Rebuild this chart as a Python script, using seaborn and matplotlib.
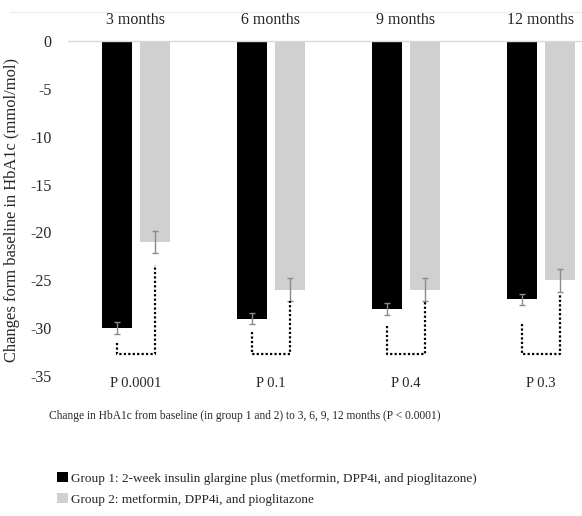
import matplotlib
matplotlib.use("Agg")
import matplotlib.pyplot as plt
from matplotlib.patches import Patch
from matplotlib.lines import Line2D
import seaborn as sns
import pandas as pd

months = ["3 months", "6 months", "9 months", "12 months"]
groups = ["Group 1: 2-week insulin glargine plus (metformin, DPP4i, and pioglitazone)",
          "Group 2: metformin, DPP4i, and pioglitazone"]
group1 = [-30, -29, -28, -27]
group2 = [-21, -26, -26, -25]
group1_err = [0.6, 0.6, 0.6, 0.6]
group2_err = [1.2, 1.2, 1.2, 1.2]
p_labels = ["P 0.0001", "P 0.1", "P 0.4", "P 0.3"]
bracket_g1_top = [-31.5, -30.4, -29.8, -29.6]
bracket_g2_top = [-23.4, -27.2, -27.2, -26.4]
bracket_bottom = [-32.7, -32.7, -32.7, -32.7]
yticks = [0, -5, -10, -15, -20, -25, -30, -35]
caption = "Change in HbA1c from baseline (in group 1 and 2) to 3, 6, 9, 12 months (P < 0.0001)"
ylabel = "Changes form baseline in HbA1c (mmol/mol)"

colors = ["#000000", "#d0d0d0"]

df = pd.DataFrame({
    "month": months * 2,
    "group": [groups[0]] * 4 + [groups[1]] * 4,
    "value": group1 + group2,
})

sns.set_style("white")
SERIF = ["Liberation Serif", "DejaVu Serif"]
plt.rcParams["font.family"] = SERIF

W, H = 582, 516
fig = plt.figure(figsize=(W / 100, H / 100), dpi=100)
left, right, top, bottom = 68.3, 608.3, 41, 376
ax = fig.add_axes([left / W, 1 - bottom / H, (right - left) / W, (bottom - top) / H])

sns.barplot(data=df, x="month", y="value", hue="group", order=months, hue_order=groups,
            palette=colors, width=0.568, gap=0.218, errorbar=None, linewidth=0,
            legend=False, ax=ax)

errs = [group1_err, group2_err]
vals = [group1, group2]
bar_containers = list(ax.containers)[:2]
centers = []
for cont in bar_containers:
    centers.append([b.get_x() + b.get_width() / 2 for b in cont])
for gi in range(2):
    ax.errorbar(centers[gi], vals[gi], yerr=errs[gi], fmt="none", ecolor="#8a8a8a",
                elinewidth=1.0, capsize=2.5, capthick=1.0, zorder=3)

for i in range(len(months)):
    x1, x2 = centers[0][i], centers[1][i]
    ax.plot([x1, x1, x2, x2],
            [bracket_g1_top[i], bracket_bottom[i], bracket_bottom[i], bracket_g2_top[i]],
            color="black", linestyle=(0, (1, 1)), linewidth=1.6, zorder=3,
            dash_capstyle="butt")

ax.set_ylim(-35, 0)
ax.set_yticks(yticks)
ax.set_yticklabels([str(t) for t in yticks])
ax.set_xlim(-0.5, 3.5)
ax.xaxis.tick_top()
ax.tick_params(axis="x", length=0, pad=9, labelsize=11.5)
ax.tick_params(axis="y", length=0, pad=12, labelsize=11.5)
ax.set_xlabel("")
ax.set_ylabel(ylabel, fontsize=11.9)
ax.yaxis.set_label_coords(-0.09, 0.495)

for s in ["left", "right", "bottom"]:
    ax.spines[s].set_visible(False)
ax.spines["top"].set_color("#d9d9d9")
ax.spines["top"].set_linewidth(1.0)
ax.set_zorder(1)

for i, lab in enumerate(p_labels):
    ax.text(i, -0.022, lab, transform=ax.get_xaxis_transform(), ha="center", va="center",
            fontsize=10.5, family=SERIF)

fig.text(245 / W, 1 - 416 / H, caption, ha="center", va="center", fontsize=8.3,
         family=SERIF)

fig.add_artist(Line2D([10 / W, 1], [1 - 12 / H, 1 - 12 / H], transform=fig.transFigure,
                      color="#ececec", linewidth=0.8))

handles = [Patch(facecolor=c, edgecolor="none") for c in colors]
fig.legend(handles, groups, loc="center left", bbox_to_anchor=(57 / W, 1 - 489 / H),
           frameon=False, prop={"family": SERIF, "size": 9.5},
           handlelength=0.8, handleheight=0.8, handletextpad=0.25, labelspacing=0.65,
           borderpad=0, borderaxespad=0)

fig.savefig("out.png", dpi=100, facecolor="white")
